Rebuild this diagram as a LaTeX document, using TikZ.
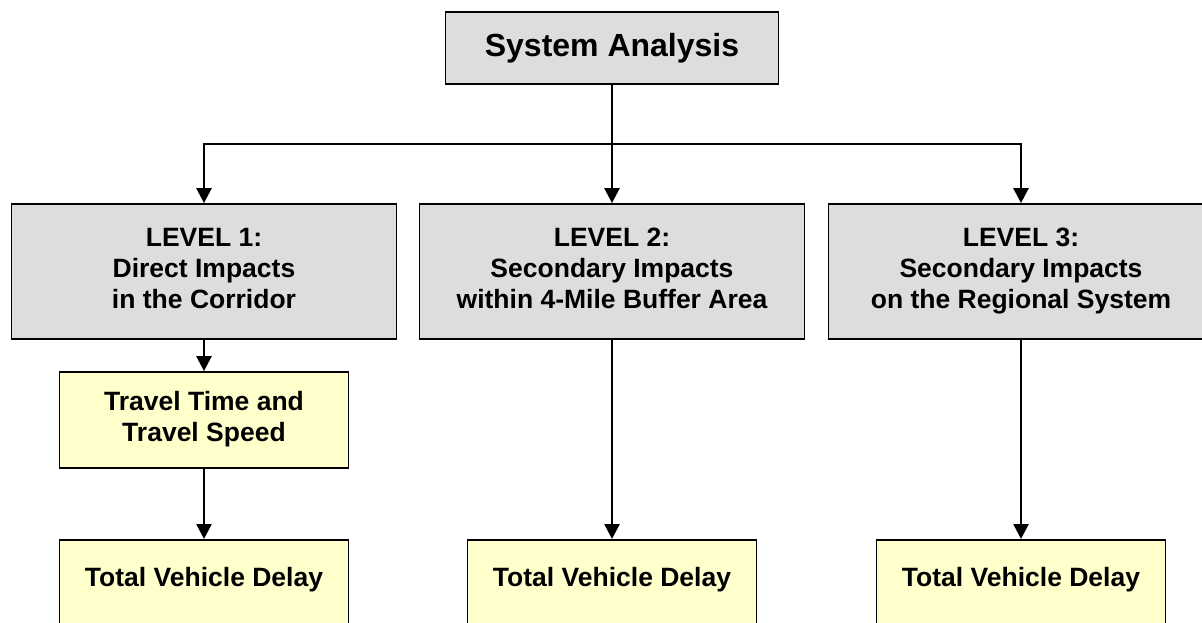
\documentclass[tikz,border=0pt]{standalone}
\usepackage{fontspec}
\setmainfont{Liberation Sans}
\usetikzlibrary{arrows.meta}
\definecolor{grayc}{HTML}{DDDDDD}
\definecolor{yellowc}{HTML}{FFFFCC}
\tikzset{
  box/.style={draw=black, line width=1.8pt, rectangle, inner sep=0pt, align=center,
    font=\fontsize{26.5}{31}\selectfont\bfseries},
  graybox/.style={box, fill=grayc},
  lvlbox/.style={graybox, minimum width=385pt, minimum height=135pt, text depth=6pt},
  ylwbox/.style={box, fill=yellowc},
  botbox/.style={ylwbox, minimum width=289pt, anchor=north, text height=47pt, text depth=120pt},
  conn/.style={line width=2.6pt, -{Triangle[width=15pt,length=15pt]}},
  plain/.style={line width=2.6pt}
}
\begin{document}
\begin{tikzpicture}[x=1pt, y=-1pt]
\useasboundingbox (0,0) rectangle (1202,622);
\clip (0,0) rectangle (1202,622);
\fill[white] (0,0) rectangle (1202,622);

\node[graybox, minimum width=333pt, minimum height=72pt,
      font=\fontsize{32}{36}\selectfont\bfseries] (top) at (612,48) {System Analysis};

\node[lvlbox] (l1) at (204,271.5) {LEVEL 1:\\Direct Impacts\\in the Corridor};
\node[lvlbox] (l2) at (612,271.5) {LEVEL 2:\\Secondary Impacts\\within 4-Mile Buffer Area};
\node[lvlbox] (l3) at (1021,271.5) {LEVEL 3:\\Secondary Impacts\\on the Regional System};

\node[ylwbox, minimum width=289pt, minimum height=96pt, text depth=8pt] (tt) at (204,420)
  {Travel Time and\\Travel Speed};

\node[botbox] (d1) at (204,539) {Total Vehicle Delay};
\node[botbox] (d2) at (612,539) {Total Vehicle Delay};
\node[botbox] (d3) at (1021,539) {Total Vehicle Delay};

\coordinate (hub) at (612,144);
\draw[plain] (top.south) -- (hub);
\draw[conn] (hub) -- (l2.north);
\draw[conn] (hub) -| (l1.north);
\draw[conn] (hub) -| (l3.north);

\draw[conn] (l1.south) -- (tt.north);
\draw[conn] (tt.south) -- (d1.north);
\draw[conn] (l2.south) -- (d2.north);
\draw[conn] (l3.south) -- (d3.north);
\end{tikzpicture}
\end{document}
